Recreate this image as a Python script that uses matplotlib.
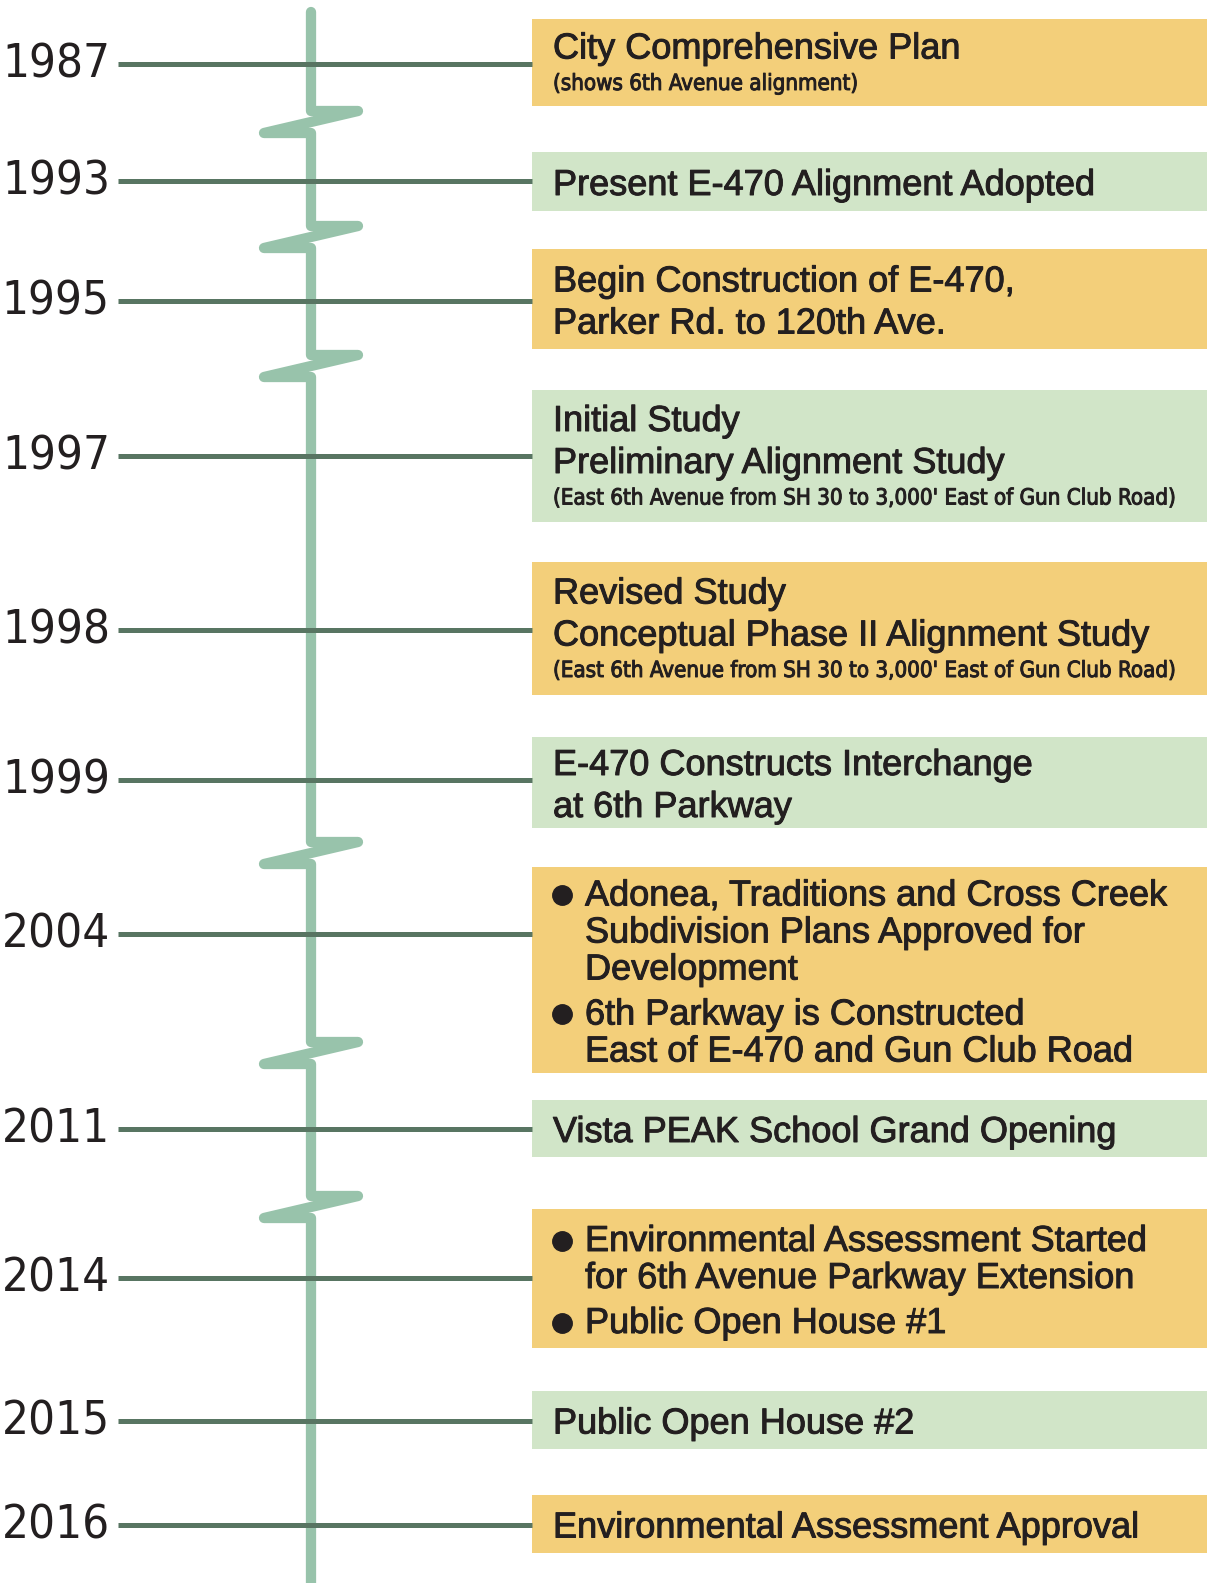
import matplotlib
matplotlib.use("Agg")
import matplotlib.pyplot as plt
from matplotlib import font_manager
from matplotlib import patheffects
from matplotlib.patches import Rectangle


def pick(fams):
    # keep only the installed families, DejaVu as last fallback
    names = {f.name for f in font_manager.fontManager.ttflist}
    return [f for f in fams if f in names] + ["DejaVu Sans"]


def condensed_file():
    # look for any installed condensed face (regular, upright)
    found = [f for f in font_manager.fontManager.ttflist
             if str(f.stretch) in ("condensed", "semi-condensed", "extra-condensed", "75", "87", "62")
             and f.style == "normal"]
    found.sort(key=lambda f: (abs(int(f.weight) - 400) if str(f.weight).isdigit() else 50))
    return found[0].fname if found else None


MAIN_FONT = pick(["Liberation Sans", "Arial"])
NARROW_FONT = pick(["Liberation Sans Narrow", "Roboto Condensed", "Open Sans Condensed",
                    "Noto Sans Condensed", "DejaVu Sans Condensed", "Arial Narrow"])
cond = condensed_file()

# ---- data ----
years = ["1987", "1993", "1995", "1997", "1998", "1999",
         "2004", "2011", "2014", "2015", "2016"]

titles = [
    ["City Comprehensive Plan"],
    ["Present E-470 Alignment Adopted"],
    ["Begin Construction of E-470,", "Parker Rd. to 120th Ave."],
    ["Initial Study", "Preliminary Alignment Study"],
    ["Revised Study", "Conceptual Phase II Alignment Study"],
    ["E-470 Constructs Interchange", "at 6th Parkway"],
    [],
    ["Vista PEAK School Grand Opening"],
    [],
    ["Public Open House #2"],
    ["Environmental Assessment Approval"],
]

notes = [
    "(shows 6th Avenue alignment)",
    "",
    "",
    "(East 6th Avenue from SH 30 to 3,000' East of Gun Club Road)",
    "(East 6th Avenue from SH 30 to 3,000' East of Gun Club Road)",
    "",
    "",
    "",
    "",
    "",
    "",
]

bullets = [
    [], [], [], [], [], [],
    [["Adonea, Traditions and Cross Creek",
      "Subdivision Plans Approved for",
      "Development"],
     ["6th Parkway is Constructed",
      "East of E-470 and Gun Club Road"]],
    [],
    [["Environmental Assessment Started",
      "for 6th Avenue Parkway Extension"],
     ["Public Open House #1"]],
    [], [],
]

box_kind = ["gold", "green", "gold", "green", "gold", "green",
            "gold", "green", "gold", "green", "gold"]

# ---- layout (pixels, y downwards) ----
W, H = 1207, 1583
year_y = [64, 181, 301, 456, 630, 780, 934, 1129, 1278, 1421, 1525]
box_top = [19, 152, 249, 390, 562, 737, 867, 1100, 1209, 1391, 1495]
box_bot = [106, 211, 349, 522, 695, 828, 1073, 1157, 1348, 1449, 1553]
breaks = [(111, 133), (226, 248), (355, 377), (842, 864), (1042, 1064), (1196, 1218)]

colors = {"gold": "#F3CF7A", "green": "#D1E5C8"}
spine_color = "#98C3AB"
tick_color = "#587562"
text_color = "#231F20"
spine_x = 311
line_x0, box_x0 = 118, 532
text_x = 553

if cond:
    year_kw = dict(fontproperties=font_manager.FontProperties(fname=cond, size=34))
    note_kw = dict(fontproperties=font_manager.FontProperties(fname=cond, size=16))
elif NARROW_FONT[0] != "DejaVu Sans":
    year_kw = dict(family=NARROW_FONT, fontsize=37)
    note_kw = dict(family=NARROW_FONT, fontsize=19)
else:
    year_kw = dict(family=MAIN_FONT, fontsize=33)
    note_kw = dict(family=MAIN_FONT, fontsize=15.5)

# slightly heavier strokes, closer to the medium weight of the original
heavy = [patheffects.withStroke(linewidth=0.7, foreground=text_color)]

fig = plt.figure(figsize=(W / 100, H / 100), dpi=100)
ax = fig.add_axes([0, 0, 1, 1])
ax.set_xlim(0, W)
ax.set_ylim(H, 0)
ax.axis("off")

# vertical timeline with break marks
px, py = [spine_x], [12]
for ya, yb in breaks:
    px += [spine_x, spine_x + 47, spine_x - 47, spine_x]
    py += [ya, ya, yb, yb]
px.append(spine_x)
py.append(H + 5)
ax.plot(px, py, color=spine_color, lw=7.4, solid_joinstyle="round",
        solid_capstyle="round", zorder=1)

for i, yr in enumerate(years):
    y = year_y[i]
    ax.plot([line_x0, box_x0], [y, y], color=tick_color, lw=3.6,
            solid_capstyle="butt", zorder=2)
    ax.text(110, y + 1, yr, ha="right", va="center", color=text_color, **year_kw)

    ax.add_patch(Rectangle((box_x0, box_top[i]), W - box_x0,
                           box_bot[i] - box_top[i],
                           facecolor=colors[box_kind[i]], edgecolor="none", zorder=1))

    # build the lines of the box: (text, kind, gap before)
    rows = []
    for t in titles[i]:
        rows.append((t, "title", 42))
    if notes[i]:
        rows.append((notes[i], "note", 35))
    for b in bullets[i]:
        for k, t in enumerate(b):
            rows.append((t, "bullet" if k == 0 else "cont", 37 if k else 45))
    total = sum(r[2] for r in rows[1:])
    y = (box_top[i] + box_bot[i]) / 2 - total / 2 + 4
    for k, (t, kind, gap) in enumerate(rows):
        if k > 0:
            y += gap
        if kind == "note":
            ax.text(text_x, y, t, ha="left", va="center", color=text_color,
                    path_effects=heavy, **note_kw)
        elif kind in ("bullet", "cont"):
            if kind == "bullet":
                ax.plot([text_x + 9], [y - 1], "o", ms=14, color=text_color)
            ax.text(text_x + 32, y, t, ha="left", va="center", fontsize=26,
                    family=MAIN_FONT, color=text_color, path_effects=heavy)
        else:
            ax.text(text_x, y, t, ha="left", va="center", fontsize=26,
                    family=MAIN_FONT, color=text_color, path_effects=heavy)

fig.savefig("out.png", dpi=100)
